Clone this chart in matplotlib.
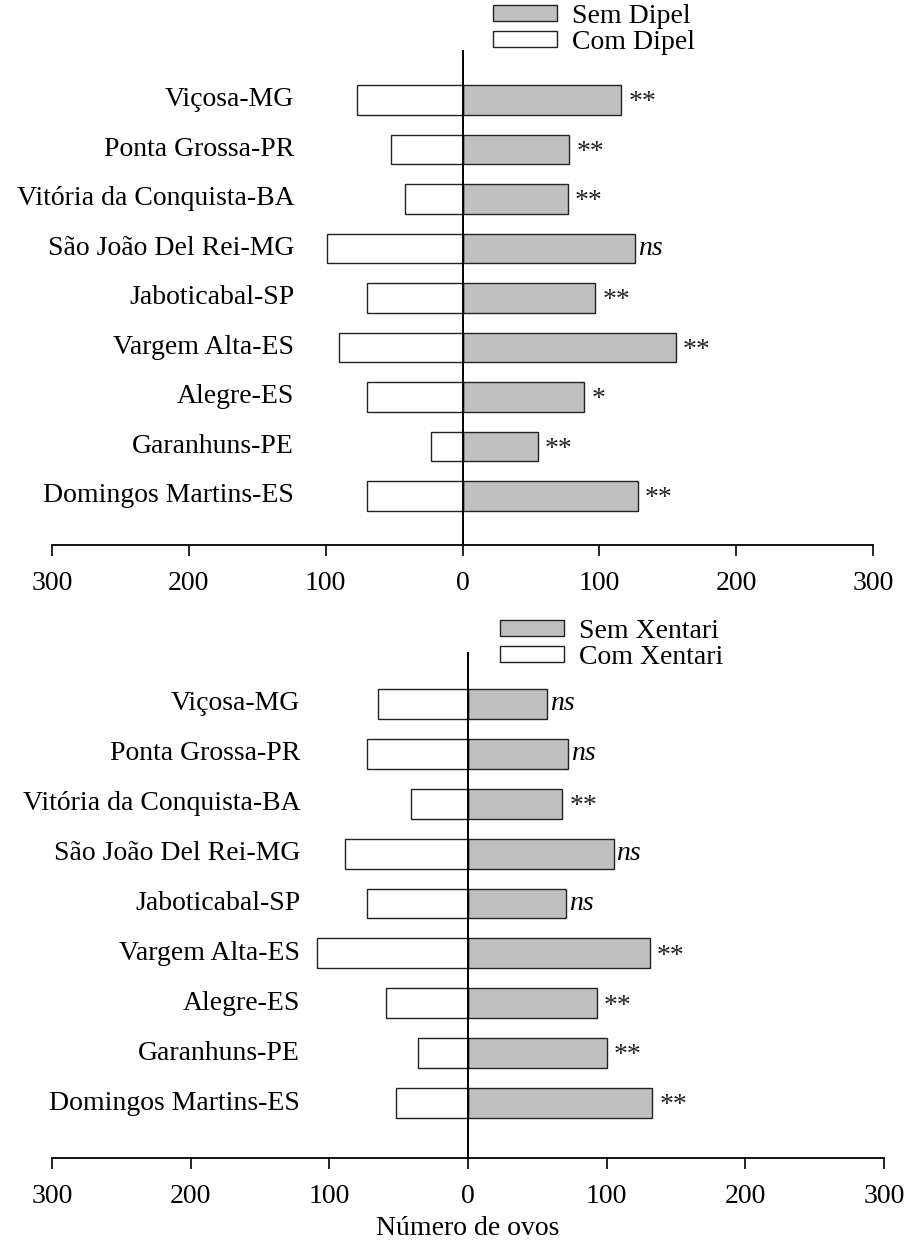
import numpy as np
import matplotlib
matplotlib.use("Agg")
import matplotlib.pyplot as plt
from matplotlib.patches import Patch

plt.rcParams['font.family'] = ['Liberation Serif', 'DejaVu Serif']
plt.rcParams['font.size'] = 20

locais = ['Viçosa-MG', 'Ponta Grossa-PR', 'Vitória da Conquista-BA',
          'São João Del Rei-MG', 'Jaboticabal-SP', 'Vargem Alta-ES',
          'Alegre-ES', 'Garanhuns-PE', 'Domingos Martins-ES']

# painel Dipel
sem_dipel = [116, 78, 77, 126, 97, 156, 89, 55, 128]
com_dipel = [77, 52, 42, 99, 70, 90, 70, 23, 70]
sig_dipel = ['**', '**', '**', 'ns', '**', '**', '*', '**', '**']

# painel Xentari
sem_xentari = [57, 72, 68, 105, 71, 131, 93, 100, 133]
com_xentari = [65, 73, 41, 89, 73, 109, 59, 36, 52]
sig_xentari = ['ns', 'ns', '**', 'ns', 'ns', '**', '**', '**', '**']

xticks = [-300, -200, -100, 0, 100, 200, 300]
xticklabels = ['300', '200', '100', '0', '100', '200', '300']

cinza = '#c0c0c0'


def painel(ax, sem, com, sig, ylim, xlab):
    y = np.arange(len(locais))
    ax.barh(y, sem, height=0.6, color=cinza, edgecolor='#222222', lw=1.0)
    ax.barh(y, [-v for v in com], height=0.6, color='white', edgecolor='#222222', lw=1.0)
    ax.axvline(0, color='black', lw=1.4)
    for yi, v, s in zip(y, sem, sig):
        if s == 'ns':
            ax.annotate(s, (v, yi), xytext=(2, 0), textcoords='offset points',
                        ha='left', va='center', style='italic')
        else:
            ax.annotate(s, (v, yi), xytext=(5, -2), textcoords='offset points',
                        ha='left', va='center', color='#222222')
    for yi, lab in zip(y, locais):
        ax.text(xlab, yi, lab, ha='right', va='center')
    ax.set_xlim(-300, 300)
    ax.set_ylim(*ylim)
    ax.set_xticks(xticks)
    ax.set_xticklabels(xticklabels)
    ax.set_yticks([])
    for sp in ['top', 'left', 'right']:
        ax.spines[sp].set_visible(False)
    ax.spines['bottom'].set_linewidth(1.3)
    ax.tick_params(axis='x', direction='out', length=8, width=1.2, pad=11)


fig = plt.figure(figsize=(9.11, 12.43), dpi=100)

ax1 = fig.add_axes([52 / 911, 1 - 545 / 1243, 821 / 911, 495 / 1243])
painel(ax1, sem_dipel, com_dipel, sig_dipel, (8.99, -1.01), -123)
ax1.legend([Patch(facecolor=cinza, edgecolor='#222222'), Patch(facecolor='white', edgecolor='#222222')],
           ['Sem Dipel', 'Com Dipel'], loc='upper left',
           bbox_to_anchor=(493 / 911, 1 - 4 / 1243), bbox_transform=fig.transFigure,
           frameon=False, borderpad=0, borderaxespad=0, handlelength=2.3,
           handleheight=0.5, handletextpad=0.55, labelspacing=0.02)

ax2 = fig.add_axes([52 / 911, 1 - 1158 / 1243, 832 / 911, 506 / 1243])
painel(ax2, sem_xentari, com_xentari, sig_xentari, (9.1, -1.04), -121)
ax2.legend([Patch(facecolor=cinza, edgecolor='#222222'), Patch(facecolor='white', edgecolor='#222222')],
           ['Sem Xentari', 'Com Xentari'], loc='upper left',
           bbox_to_anchor=(500 / 911, 1 - 619 / 1243), bbox_transform=fig.transFigure,
           frameon=False, borderpad=0, borderaxespad=0, handlelength=2.3,
           handleheight=0.5, handletextpad=0.55, labelspacing=0.02)

fig.text(468 / 911, 2 / 1243, 'Número de ovos', ha='center', va='bottom')

fig.savefig('out.png', dpi=100)
